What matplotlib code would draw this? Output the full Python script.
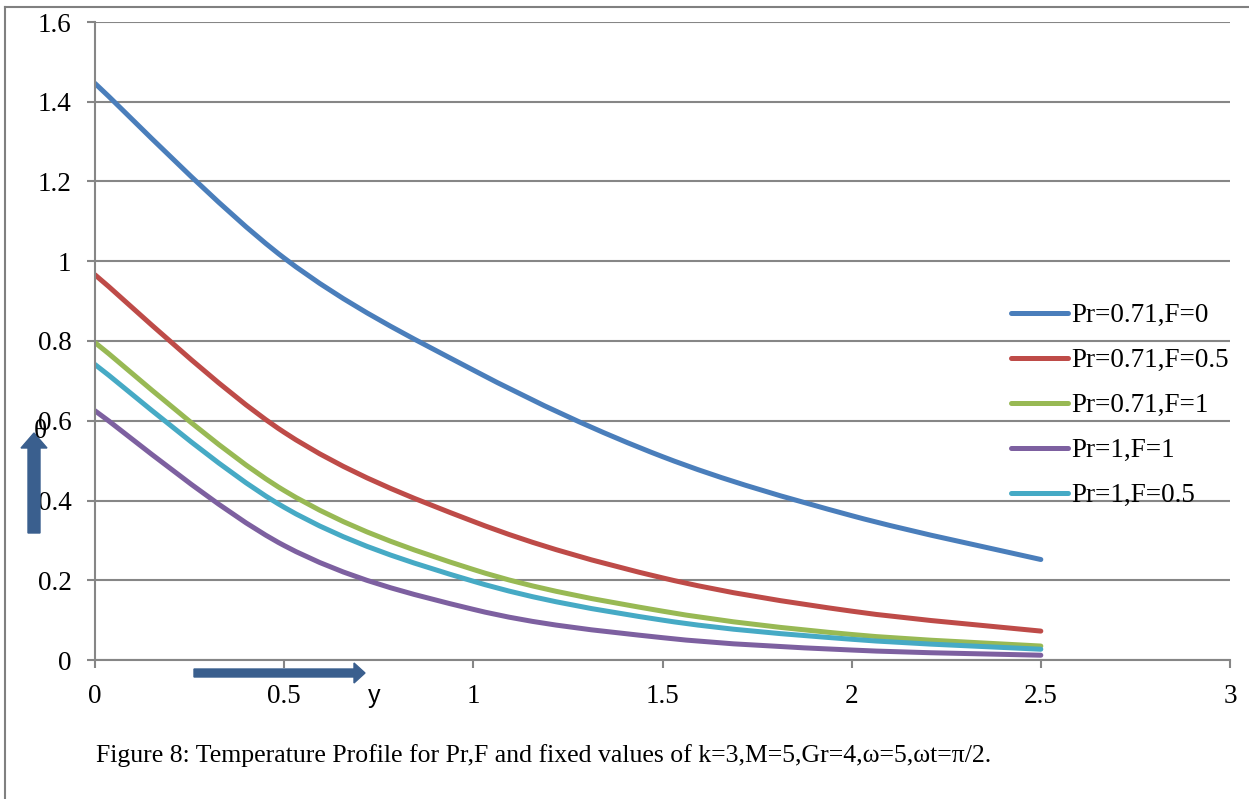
import numpy as np
import matplotlib.pyplot as plt
from matplotlib.patches import FancyArrow, PathPatch
from matplotlib.path import Path
from matplotlib.transforms import Affine2D
from matplotlib.lines import Line2D

# dimensionless distance from the plate
y = [0.0, 0.5, 1.0, 1.5, 2.0, 2.5]

# temperature profiles
theta_pr071_f0 = [1.446, 1.008, 0.727, 0.510, 0.362, 0.252]
theta_pr071_f05 = [0.966, 0.571, 0.3475, 0.206, 0.1225, 0.0725]
theta_pr071_f1 = [0.796, 0.425, 0.227, 0.1225, 0.064, 0.035]
theta_pr1_f1 = [0.625, 0.287, 0.127, 0.056, 0.025, 0.012]
theta_pr1_f05 = [0.741, 0.383, 0.1975, 0.100, 0.052, 0.027]

labels = ["Pr=0.71,F=0", "Pr=0.71,F=0.5", "Pr=0.71,F=1", "Pr=1,F=1", "Pr=1,F=0.5"]
colors = ["#4A7EBB", "#BE4B48", "#98B954", "#7D60A0", "#46AAC5"]


def smooth_path(xs, ys):
    # spreadsheet-style smoothed line: cubic Bezier segments through every point
    p = np.column_stack([xs, ys])
    n = len(p)
    verts = [p[0]]
    codes = [Path.MOVETO]
    for i in range(n - 1):
        prev = p[max(i - 1, 0)]
        nxt = p[min(i + 2, n - 1)]
        c1 = p[i] + (p[i + 1] - prev) / 6
        c2 = p[i + 1] - (nxt - p[i]) / 6
        verts += [c1, c2, p[i + 1]]
        codes += [Path.CURVE4] * 3
    return Path(verts, codes)


W, H = 1249, 799
fig = plt.figure(figsize=(W / 100, H / 100), dpi=100)
# pixel coordinates measured from the top-left corner
pix = Affine2D().scale(1, -1).translate(0, H).scale(1 / W, 1 / H) + fig.transFigure

ax = fig.add_axes([95 / W, (H - 660) / H, (1230 - 95) / W, (660 - 22) / H])

series = [theta_pr071_f0, theta_pr071_f05, theta_pr071_f1, theta_pr1_f1, theta_pr1_f05]
handles = []
for vals, lab, col in zip(series, labels, colors):
    ax.add_patch(PathPatch(smooth_path(y, vals), facecolor="none", edgecolor=col,
                           linewidth=3.6, capstyle="round", joinstyle="round"))
    handles.append(Line2D([], [], color=col, linewidth=3.6, solid_capstyle="round", label=lab))

grey = "#868686"
ax.set_xlim(0, 3)
ax.set_ylim(0, 1.6)
ax.set_xticks(np.arange(0, 3.01, 0.5))
ax.set_xticklabels(["0", "0.5", "1", "1.5", "2", "2.5", "3"])
ax.set_yticks(np.arange(0, 1.61, 0.2))
ax.set_yticklabels(["0", "0.2", "0.4", "0.6", "0.8", "1", "1.2", "1.4", "1.6"])
ax.yaxis.grid(True, color=grey, linewidth=1.5)
ax.set_axisbelow(True)
for s in ["top", "right"]:
    ax.spines[s].set_visible(False)
for s in ["left", "bottom"]:
    ax.spines[s].set_color(grey)
    ax.spines[s].set_linewidth(1.5)
ax.tick_params(axis="both", length=6, width=1.5, color=grey, labelsize=19.5)
ax.tick_params(axis="y", pad=11)
ax.tick_params(axis="x", pad=11)
for t in ax.get_xticklabels() + ax.get_yticklabels():
    t.set_fontfamily("Liberation Serif")

ax.legend(handles=handles, loc="upper left", bbox_to_anchor=(1011, 303), bbox_transform=pix,
          frameon=False, borderpad=0, borderaxespad=0, handlelength=2.1,
          handletextpad=0.12, labelspacing=0.74,
          prop={"family": "Liberation Serif", "size": 19.5})

# axis arrows and their labels
fig.add_artist(FancyArrow(34, 533, 0, -100, width=12, head_width=26, head_length=15,
                          length_includes_head=True, color="#3A5F8E", transform=pix))
fig.add_artist(FancyArrow(194, 673, 171, 0, width=8, head_width=20, head_length=11,
                          length_includes_head=True, color="#3A5F8E", transform=pix))
fig.text(40, 431, "θ", transform=pix, fontsize=20, family="Liberation Serif",
         ha="center", va="center")
fig.text(374, 696, "y", transform=pix, fontsize=18, family="Liberation Sans",
         ha="center", va="center")

# page frame
fig.add_artist(Line2D([5, 5], [7, H], color="#808080", linewidth=1.5, transform=pix))
fig.add_artist(Line2D([5, W], [7, 7], color="#808080", linewidth=1.5, transform=pix))

fig.text(96, 762, "Figure 8: Temperature Profile for Pr,F and fixed values of "
         "k=3,M=5,Gr=4,ω=5,ωt=π/2.", transform=pix, fontsize=18.5,
         family="Liberation Serif", ha="left", va="baseline")

fig.savefig("out.png", dpi=100)
